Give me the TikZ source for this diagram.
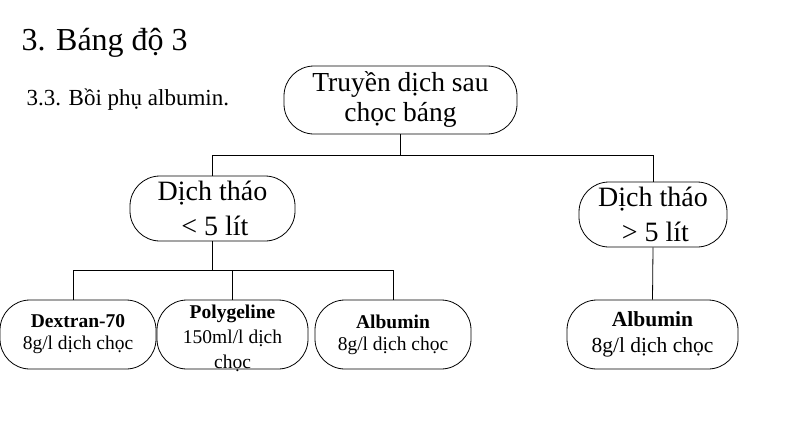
\documentclass[tikz,border=0pt]{standalone}
\usepackage{fontspec}
\setmainfont{Liberation Serif}
\begin{document}
\begin{tikzpicture}[x=1pt,y=-1pt,
  box/.style={draw, line width=0.8pt, rounded corners=30pt, align=center, inner sep=0pt},
  conn/.style={draw, line width=0.8pt},
  fbig/.style={font=\fontsize{27.5}{30}\selectfont},
  fmid/.style={font=\fontsize{28}{35}\selectfont},
  fsmall/.style={font=\fontsize{19.5}{22}\selectfont},
  fpoly/.style={font=\fontsize{19.5}{25}\selectfont},
  fright/.style={font=\fontsize{21.5}{26}\selectfont}]
\useasboundingbox (0,0) rectangle (791,440);
\node[anchor=west, font=\fontsize{32}{36}\selectfont] (title) at (18,43) {3. Báng độ 3};
\node[anchor=west, font=\fontsize{23}{26}\selectfont] (sub) at (23,100) {3.3. Bồi phụ albumin.};

\node[box, fbig, minimum width=233pt, minimum height=68pt] (top) at (400.5,100) {Truyền dịch sau\\chọc báng};
\node[box, fmid, minimum width=165pt, minimum height=65pt] (left) at (212.5,208.5) {Dịch tháo\\\,< 5 lít};
\node[box, fmid, minimum width=148pt, minimum height=65pt] (right) at (653,214.5) {Dịch tháo\\\,> 5 lít};

\node[box, fsmall, minimum width=156pt, minimum height=69pt] (dex) at (78,334.5) {\textbf{Dextran-70}\\8g/l dịch chọc};
\node[box, minimum width=151pt, minimum height=69pt] (poly) at (232.5,334.5) {};
\node[fpoly, align=center, inner sep=0pt] (polytext) at ([yshift=-4pt]poly.center) {\textbf{Polygeline}\\150ml/l dịch\\chọc};
\node[box, fsmall, minimum width=156pt, minimum height=69pt] (alb) at (393,334.5) {\textbf{Albumin}\\8g/l dịch chọc};
\node[box, fright, minimum width=171pt, minimum height=69pt] (albr) at (652.5,334.5) {\textbf{Albumin}\\8g/l dịch chọc};

\coordinate (j1) at (400.5,155);
\coordinate (j2) at (212.5,270);
\draw[conn] (top.south) -- (j1);
\draw[conn] (j1) -| (left.north);
\draw[conn] (j1) -| (right.north);
\draw[conn] (left.south) -- (j2);
\draw[conn] (j2) -| ([xshift=-5pt]dex.north);
\draw[conn] (j2) -| (poly.north);
\draw[conn] (j2) -| (alb.north);
\draw[conn] (right.south) -- (albr.north);
\end{tikzpicture}
\end{document}
